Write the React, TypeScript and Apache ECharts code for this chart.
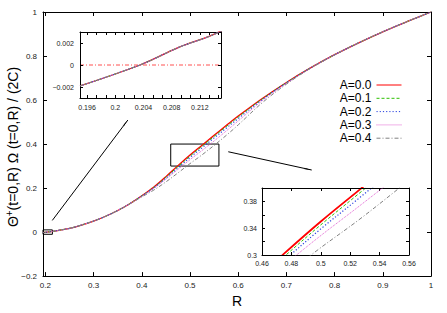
import React, { useEffect, useRef } from "react";
import * as echarts from "echarts";

// ---------- data ----------
const R = [0.195, 0.2035, 0.209, 0.215, 0.23, 0.25, 0.275, 0.3, 0.325, 0.35, 0.375, 0.4, 0.425, 0.45, 0.475, 0.5, 0.525, 0.55, 0.575, 0.6, 0.65, 0.7, 0.75, 0.8, 0.85, 0.9, 0.95, 1.0];
const A00 = [-0.0019, 0, 0.0016, 0.0031, 0.009, 0.017, 0.032, 0.05, 0.072, 0.098, 0.129, 0.165, 0.205, 0.252, 0.302, 0.35, 0.395, 0.44, 0.484, 0.527, 0.607, 0.68, 0.746, 0.806, 0.86, 0.91, 0.956, 1.0];
const A01 = [-0.0019, 0, 0.0016, 0.0031, 0.009, 0.017, 0.032, 0.05, 0.072, 0.098, 0.129, 0.165, 0.203, 0.249, 0.2975, 0.345, 0.39, 0.435, 0.479, 0.5225, 0.605, 0.679, 0.746, 0.806, 0.86, 0.91, 0.956, 1.0];
const A02 = [-0.0019, 0, 0.0016, 0.0031, 0.009, 0.017, 0.032, 0.05, 0.072, 0.098, 0.129, 0.164, 0.201, 0.245, 0.292, 0.339, 0.383, 0.428, 0.472, 0.516, 0.602, 0.678, 0.746, 0.806, 0.86, 0.91, 0.956, 1.0];
const A03 = [-0.0019, 0, 0.0016, 0.0031, 0.009, 0.017, 0.032, 0.05, 0.072, 0.098, 0.129, 0.163, 0.199, 0.241, 0.285, 0.329, 0.371, 0.414, 0.459, 0.505, 0.597, 0.676, 0.745, 0.806, 0.86, 0.91, 0.956, 1.0];
const A04 = [-0.0019, 0, 0.0016, 0.0031, 0.009, 0.017, 0.032, 0.05, 0.072, 0.098, 0.128, 0.16, 0.191, 0.228, 0.269, 0.311, 0.351, 0.394, 0.439, 0.487, 0.588, 0.672, 0.744, 0.805, 0.86, 0.91, 0.956, 1.0];

const seriesNames = ["A=0.0", "A=0.1", "A=0.2", "A=0.3", "A=0.4"];
const seriesValues = [A00, A01, A02, A03, A04];

// tick labels / positions
const mainXTicks = [0.2, 0.3, 0.4, 0.5, 0.6, 0.7, 0.8, 0.9, 1];
const mainYTicks = [-0.2, 0, 0.2, 0.4, 0.6, 0.8, 1];
const in1XLabels = [0.196, 0.2, 0.204, 0.208, 0.212];
const in1XTicks = [0.196, 0.19733, 0.19867, 0.2, 0.20133, 0.20267, 0.204, 0.20533, 0.20667, 0.208, 0.20933, 0.21067, 0.212, 0.21333, 0.21467];
const in1YTicks = [-0.002, 0, 0.002];
const in2XTicks = [0.46, 0.48, 0.5, 0.52, 0.54, 0.56];
const in2YLabels = [0.3, 0.34, 0.38];
const in2YTicks = [0.3, 0.32, 0.34, 0.36, 0.38, 0.4];

// annotations (data coordinates)
const arrowToInset1 = [[0.2143, 0.053], [0.371, 0.509]];
const arrowToInset2 = [[0.5794, 0.365], [0.7525, 0.282]];
const zoomBox2 = [[0.46, 0.3], [0.56, 0.4]];
const zoomBox1 = [[0.195, -0.01], [0.2145, 0.01]];
const inset1ZeroX = [0.195, 0.215];
const inset1ZeroY = [0, 0];

// ---------- styles ----------
const FONT = "Liberation Sans, Arial, Helvetica, sans-serif";
const lineStyles = [
  { color: "#ff0000", width: 1.3, type: "solid" },
  { color: "#2ec000", width: 1, type: [3, 2] },
  { color: "#2840e0", width: 1.2, type: [1.2, 2] },
  { color: "#e060d0", width: 1, type: [1, 1] },
  { color: "#808080", width: 1, type: [4, 2, 1, 2] },
];

const fmt = (v: number) => {
  const s = String(+Number(v).toFixed(4));
  return s.replace("-", "\u2212");
};

function ax(gridIndex: number, min: number, max: number, ticks: number[], labels: number[] | null, fontSize: number, margin: number, tickLen: number, position: string) {
  return {
    type: "value",
    gridIndex,
    min,
    max,
    position,
    z: 5,
    axisLine: { show: true, onZero: false, lineStyle: { color: "#000", width: 1 } },
    axisTick: { show: true, inside: true, length: tickLen, customValues: ticks, lineStyle: { color: "#000" } },
    axisLabel: labels
      ? { show: true, customValues: labels, fontSize, margin, color: "#222", fontFamily: FONT, formatter: fmt }
      : { show: false },
    splitLine: { show: false },
  };
}

export default function App() {
  const ref = useRef<HTMLDivElement>(null);
  useEffect(() => {
    if (!ref.current) return;
    const chart = echarts.init(ref.current, undefined, { renderer: "svg" });

    const pts = (vals: number[]) => R.map((r, i) => [r, vals[i]]);

    const series: any[] = [
      {
        type: "line",
        xAxisIndex: 2,
        yAxisIndex: 2,
        data: inset1ZeroX.map((x, i) => [x, inset1ZeroY[i]]),
        symbol: "none",
        silent: true,
        lineStyle: { color: "#ff5050", width: 1, type: [4, 2, 1, 2] },
        itemStyle: { color: "#ff5050" },
        z: 1,
      },
    ];
    const panels = [0, 2, 4];
    panels.forEach((axisIdx, p) => {
      seriesNames.forEach((name, k) => {
        const s: any = {
          name,
          type: "line",
          xAxisIndex: axisIdx,
          yAxisIndex: axisIdx,
          data: pts(seriesValues[k]),
          symbol: "none",
          showSymbol: false,
          smooth: 0.35,
          lineStyle: p === 2 && k === 0 ? { ...lineStyles[k], width: 1.8 } : lineStyles[k],
          itemStyle: { color: lineStyles[k].color },
          z: 2 + k,
        };
        if (p === 0 && k === 0) {
          s.markLine = {
            silent: true,
            symbol: ["none", "arrow"],
            symbolSize: [1, 8],
            label: { show: false },
            lineStyle: { color: "#000", width: 1, type: "solid" },
            itemStyle: { color: "#000" },
            data: [
              [{ coord: arrowToInset1[0] }, { coord: arrowToInset1[1] }],
              [{ coord: arrowToInset2[0] }, { coord: arrowToInset2[1] }],
            ],
          };
          s.markArea = {
            silent: true,
            itemStyle: { color: "rgba(0,0,0,0)", borderColor: "#000", borderWidth: 1 },
            label: { show: false },
            data: [
              [{ coord: zoomBox2[0] }, { coord: zoomBox2[1] }],
              [{ coord: zoomBox1[0] }, { coord: zoomBox1[1] }],
            ],
          };
        }
        series.push(s);
      });
    });

    const option: any = {
      animation: false,
      backgroundColor: "#fff",
      textStyle: { fontFamily: FONT },
      grid: [
        { left: 43, top: 12, width: 388, height: 273 },
        { left: 80, top: 32, width: 141, height: 66 },
        { left: 262, top: 188, width: 147, height: 67 },
      ],
      xAxis: [
        { ...ax(0, 0.195, 1, mainXTicks, mainXTicks, 8, 5, 4, "bottom"), name: "R", nameLocation: "middle", nameGap: 9, nameTextStyle: { fontSize: 14, color: "#000", fontFamily: FONT } },
        ax(0, 0.195, 1, mainXTicks, null, 8, 5, 4, "top"),
        ax(1, 0.195, 0.215, in1XTicks, in1XLabels, 7, 6, 3, "bottom"),
        ax(1, 0.195, 0.215, in1XTicks, null, 7, 6, 3, "top"),
        ax(2, 0.46, 0.56, in2XTicks, in2XTicks, 7, 5, 3, "bottom"),
        ax(2, 0.46, 0.56, in2XTicks, null, 7, 5, 3, "top"),
      ],
      yAxis: [
        ax(0, -0.2, 1, mainYTicks, mainYTicks, 8, 6, 4, "left"),
        ax(0, -0.2, 1, mainYTicks, null, 8, 6, 4, "right"),
        ax(1, -0.003, 0.003, in1YTicks, in1YTicks, 7, 6, 3, "left"),
        ax(1, -0.003, 0.003, in1YTicks, null, 7, 6, 3, "right"),
        ax(2, 0.3, 0.4, in2YTicks, in2YLabels, 7, 5, 3, "left"),
        ax(2, 0.3, 0.4, in2YTicks, null, 7, 5, 3, "right"),
      ],
      legend: {
        data: seriesNames,
        orient: "vertical",
        align: "right",
        right: 45,
        top: 79,
        padding: 0,
        itemWidth: 25,
        itemHeight: 12,
        itemGap: 1.3,
        selectedMode: false,
        itemStyle: { opacity: 0 },
        lineStyle: { width: 1 },
        textStyle: { fontSize: 12, color: "#000", fontFamily: FONT },
      },
      graphic: [
        {
          type: "text",
          x: 13,
          y: 147,
          rotation: Math.PI / 2,
          style: {
            text: "{t|\u0398}{s|+}{t|(t=0,R) \u03A9 (t=0,R) / (2C)}",
            rich: {
              t: { fontSize: 14, fontFamily: FONT, fill: "#000" },
              s: { fontSize: 10, fontFamily: FONT, fill: "#000", padding: [0, 0, 8, 0] },
            },
            align: "center",
            verticalAlign: "middle",
          },
        },
      ],
      series,
    };
    chart.setOption(option);
    return () => chart.dispose();
  }, []);
  return <div ref={ref} style={{ position: "fixed", left: 0, top: 0, width: 447, height: 313 }} />;
}
